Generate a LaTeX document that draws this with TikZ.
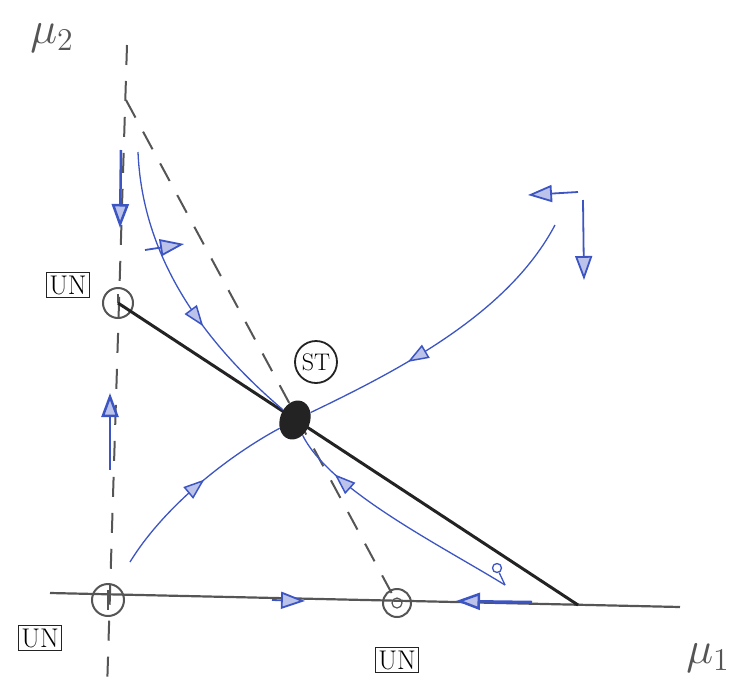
\documentclass[tikz,border=0pt]{standalone}
\usepackage{fontspec}
\usetikzlibrary{arrows.meta,decorations.markings,shapes.geometric}
\definecolor{pen}{RGB}{60,85,195}
\definecolor{pencil}{RGB}{85,85,85}
\definecolor{ink}{RGB}{35,35,35}
\tikzset{
 axisline/.style={pencil,line width=2.2pt},
 dashline/.style={pencil,line width=2pt,dash pattern=on 20pt off 16pt},
 fixpt/.style={circle,draw=pencil,line width=2pt,minimum size=30pt,inner sep=0pt},
 flow/.style={pen,line width=1.3pt},
 headtip/.style={pen,line width=1.8pt,-{Triangle[length=24pt,width=17pt,fill=pen!35]}},
 midhead/.style={postaction={decorate,decoration={markings,mark=at position #1 with {\arrow[pen,line width=1.5pt]{Triangle[length=21pt,width=15pt,fill=pen!35]}}}}},
 tag/.style={font=\fontsize{27}{29}\selectfont,inner sep=3pt,draw=ink,line width=1.5pt},
 axlabel/.style={pencil,scale=2.2,font=\fontsize{20}{22}\selectfont},
}
\begin{document}
\begin{tikzpicture}[x=1pt,y=-1pt]
\useasboundingbox (0,0) rectangle (732,697);
% axes
\coordinate (vtop) at (127,45);
\coordinate (vbot) at (107,690);
\draw[dashline] (vtop) -- (vbot);
\coordinate (hl) at (50,593);
\coordinate (hr) at (680,607);
\draw[axisline] (hl) -- (hr);
% fixed points
\node[fixpt] (un1) at (118,303) {};
\node[fixpt,minimum size=32pt] (un0) at (108,600) {};
\node[fixpt,minimum size=28pt] (un2) at (397,603) {};
\node[circle,draw=pencil,line width=1.2pt,minimum size=10pt,inner sep=0pt] (un2i) at (un2.center) {};
\draw[pencil,line width=2pt] (un1.center) -- ++(0,-9);
\draw[pencil,line width=2pt] (un0.center) -- ++(0,-10) (un0.center) -- ++(0,10);
% separatrix (solid)
\coordinate (send) at (578,605);
\draw[ink,line width=3pt] (un1.center) -- (send);
% dashed diagonal
\coordinate (dtop) at (126,100);
\draw[dashline] (dtop) -- (un2.center);
% stable point
\node[ellipse,fill=ink,minimum width=30pt,minimum height=40pt,inner sep=0pt,rotate=-20] (st) at (295,420) {};
\node[circle,draw=ink,line width=1.8pt,minimum size=42pt,inner sep=0pt,font=\fontsize{24}{26}\selectfont] (stlab) at (316,362) {ST};
% flow curves
\coordinate (a0) at (138,152);
\draw[flow,midhead=0.62] (a0) .. controls (142,250) and (195,335) .. (st);
\draw[headtip] (145,250) -- (184,244);
\coordinate (b0) at (130,562);
\draw[flow,midhead=0.55] (b0) .. controls (165,505) and (230,455) .. (st);
\coordinate (c0) at (555,225);
\draw[flow,midhead=0.65] (c0) .. controls (510,310) and (410,365) .. (st);
\coordinate (d0) at (505,585);
\draw[flow,midhead=0.8] (d0) .. controls (440,545) and (330,490) .. (st);
\node[circle,draw=pen,line width=1.3pt,minimum size=9pt,inner sep=0pt] (loop) at (497,568) {};
\draw[flow] (loop) -- (d0);
% axis arrows
\draw[headtip,line width=2.5pt] (121,150) -- (120,228);
\draw[headtip,line width=2.5pt] (110,470) -- (110,393);
\draw[headtip] (272,600) -- (305,601);
\draw[headtip,line width=2.5pt] (532,602) -- (456,601);
\draw[headtip] (578,192) -- (528,195);
\draw[headtip] (583,200) -- (584,280);
% tags
\node[tag] (t1) at (68,285) {UN};
\node[tag] (t0) at (40,638) {UN};
\node[tag] (t2) at (397,660) {UN};
\node[axlabel] (m2) at (52,38) {$\mu_2$};
\node[axlabel] (m1) at (708,658) {$\mu_1$};
\end{tikzpicture}
\end{document}
